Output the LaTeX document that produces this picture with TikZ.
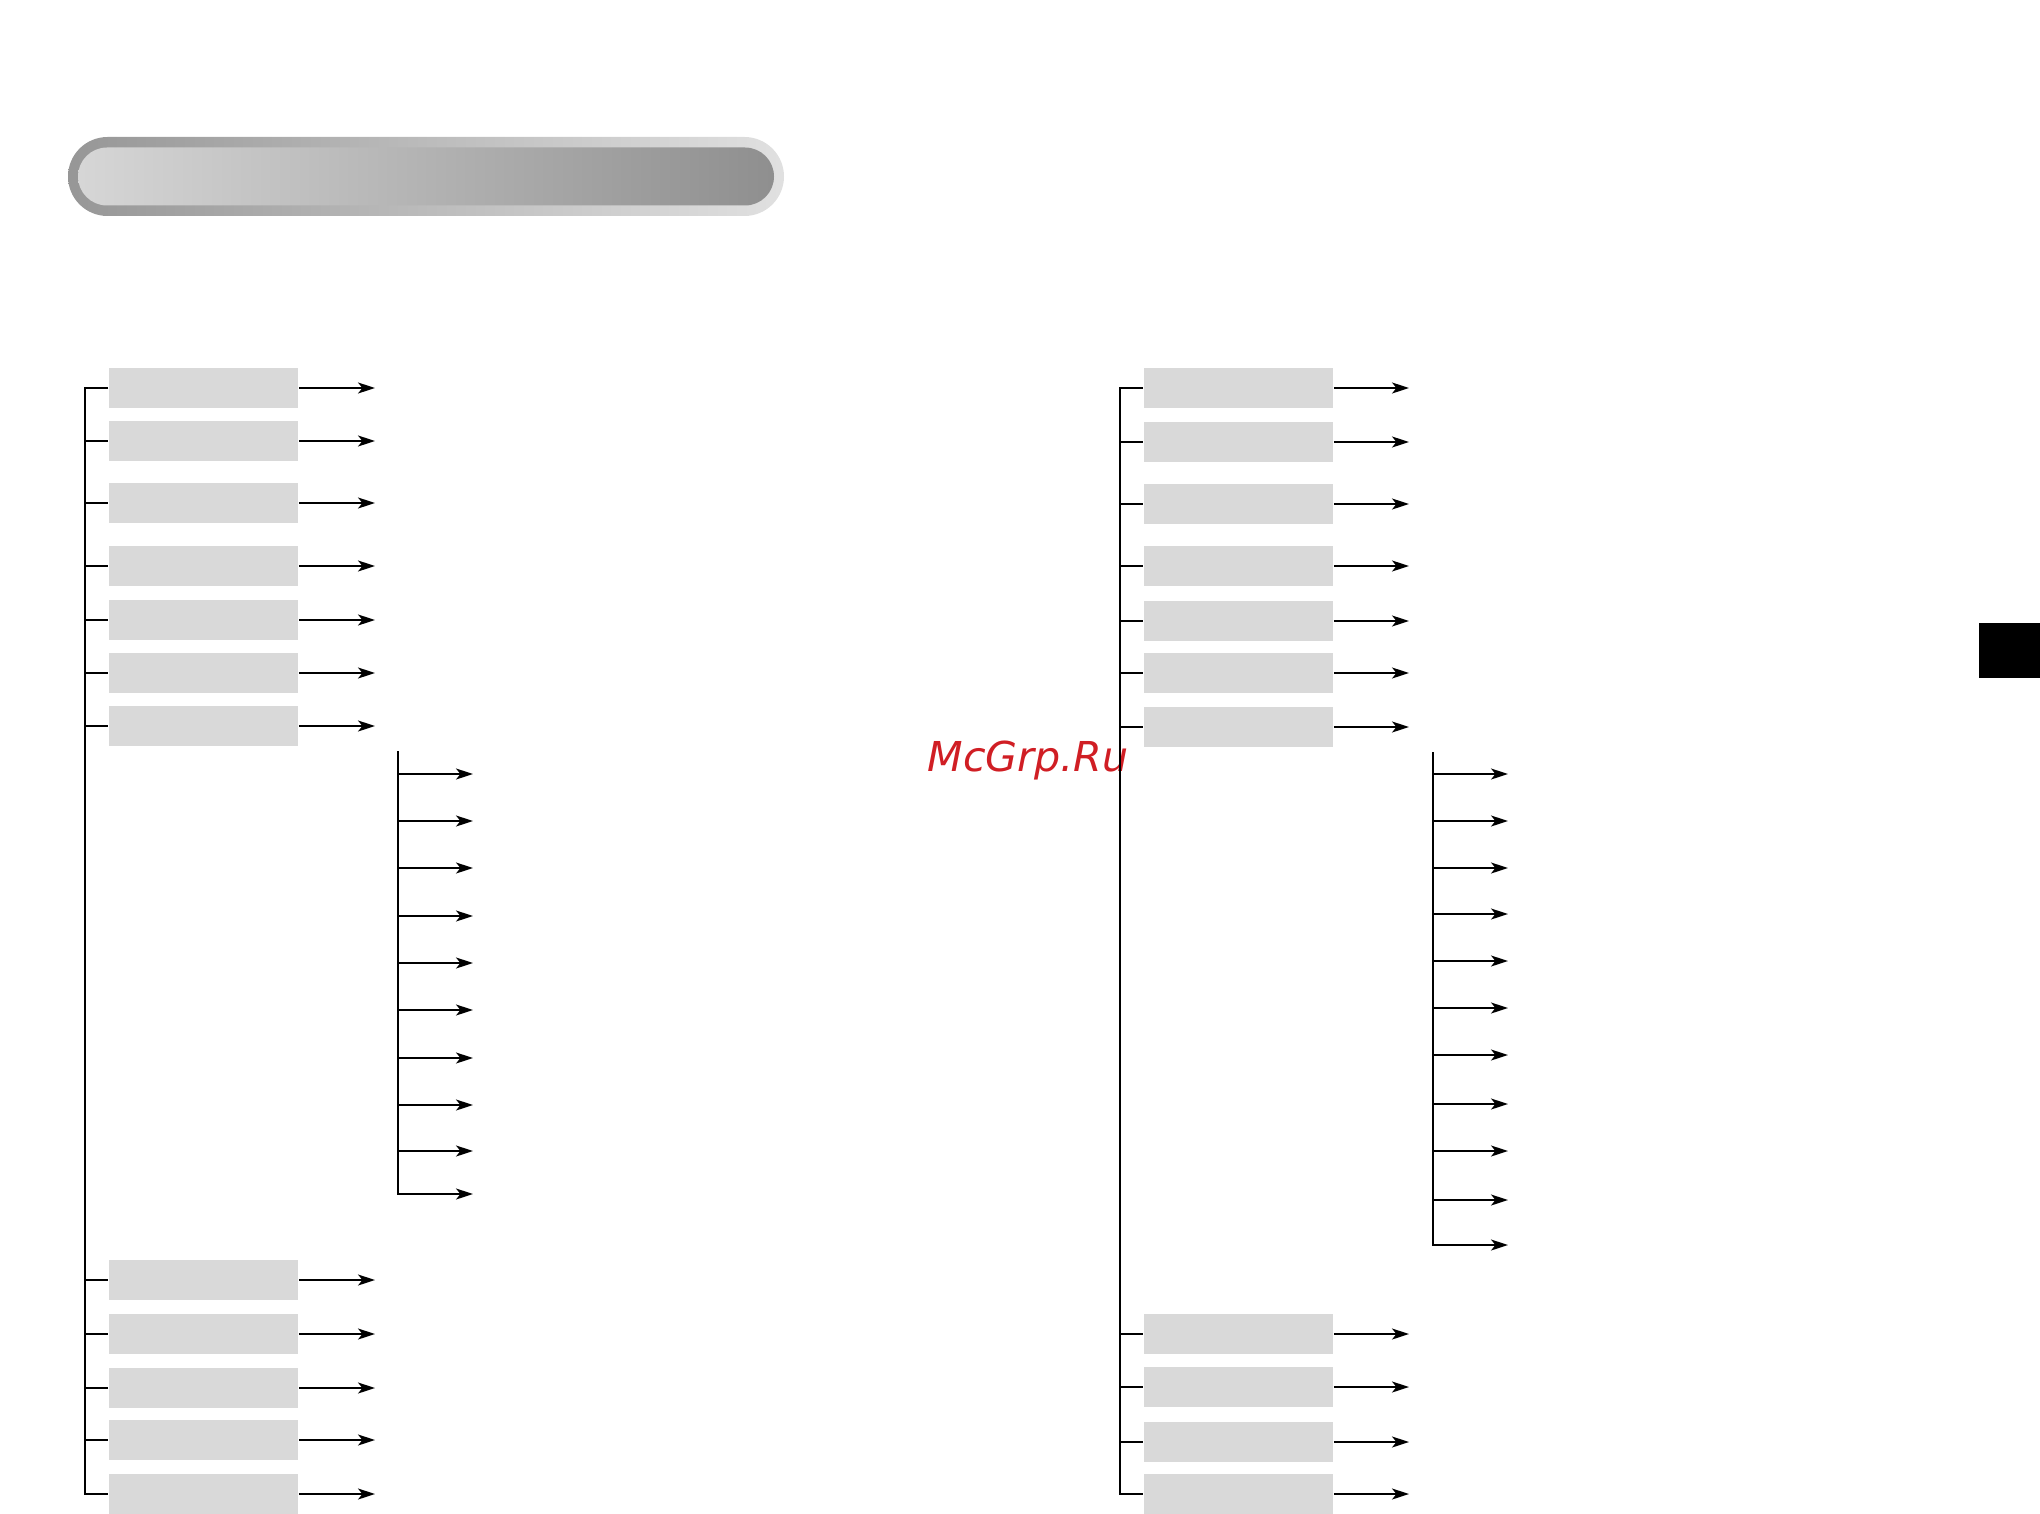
\documentclass[tikz,border=0pt]{standalone}
\usepackage{fontspec}
\newfontfamily\markfont{DejaVu Sans}
\usetikzlibrary{arrows.meta}
\definecolor{boxgray}{HTML}{D9D9D9}
\definecolor{markred}{RGB}{208,30,36}

\begin{document}
\begin{tikzpicture}
  [x=0.5pt, y=-0.5pt, line width=0.85pt,
   menubox/.style={rectangle, fill=boxgray, inner sep=0pt, minimum width=94.5pt, minimum height=20pt},
   link/.style={-{Stealth[length=8.5pt, width=5.5pt, inset=2.2pt]}}]

  \useasboundingbox (0,0) rectangle (2040,1514);

  % title bar
  \shade[left color=black!41, right color=black!12, rounded corners=19.75pt] (68,137) rectangle (784,216);
  \shade[left color=black!16, right color=black!44, rounded corners=14.5pt] (78,147.5) rectangle (774,205.5);

  % watermark
  \node[text=markred, font=\markfont\itshape\fontsize{20.6}{20.6}\selectfont, anchor=base] (mark) at (1028,771) {McGrp.Ru};

  % tab at the right edge
  \fill (1979,623) rectangle (2040,678);

  % left column
  \coordinate (ltrunk) at (85,0);
  \coordinate (ltip) at (375,0);
  \foreach \y [count=\i] in {388,441,503,566,620,673,726,1280,1334,1388,1440,1494}
    \node[menubox] (l\i) at (203.5,\y) {};

  \draw (l1.west) -| (ltrunk |- l12.west) -- (l12.west);
  \foreach \i in {2,...,11}
    \draw (ltrunk |- l\i.west) -- (l\i.west);
  \foreach \i in {1,...,12}
    \draw[link] (l\i.east) -- (ltip |- l\i.east);

  % left sub list
  \coordinate (lsub) at (398,751);
  \foreach \y [count=\i] in {774,821,868,916,963,1010,1058,1105,1151,1194}
    \coordinate (lt\i) at (473,\y);
  \draw[link] (lsub) |- (lt10);
  \foreach \i in {1,...,9}
    \draw[link] (lsub |- lt\i) -- (lt\i);

  % right column
  \coordinate (rtrunk) at (1120,0);
  \coordinate (rtip) at (1409,0);
  \foreach \y [count=\i] in {388,442,504,566,621,673,727,1334,1387,1442,1494}
    \node[menubox] (r\i) at (1238.5,\y) {};

  \draw (r1.west) -| (rtrunk |- r11.west) -- (r11.west);
  \foreach \i in {2,...,10}
    \draw (rtrunk |- r\i.west) -- (r\i.west);
  \foreach \i in {1,...,11}
    \draw[link] (r\i.east) -- (rtip |- r\i.east);

  % right sub list
  \coordinate (rsub) at (1433,752);
  \foreach \y [count=\i] in {774,821,868,914,961,1008,1055,1104,1151,1200,1245}
    \coordinate (rt\i) at (1508,\y);
  \draw[link] (rsub) |- (rt11);
  \foreach \i in {1,...,10}
    \draw[link] (rsub |- rt\i) -- (rt\i);
\end{tikzpicture}
\end{document}
